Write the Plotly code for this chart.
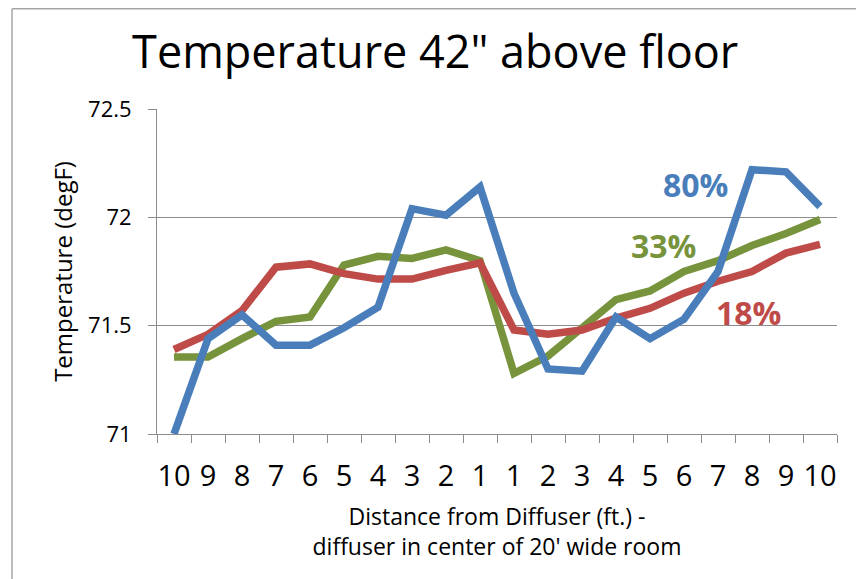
import plotly.graph_objects as go

distance_labels = ["10", "9", "8", "7", "6", "5", "4", "3", "2", "1",
                   "1", "2", "3", "4", "5", "6", "7", "8", "9", "10"]
rh_80 = [71.00, 71.44, 71.55, 71.41, 71.41, 71.49, 71.585, 72.04, 72.01, 72.14,
         71.65, 71.30, 71.29, 71.54, 71.44, 71.53, 71.75, 72.22, 72.21, 72.05]
rh_33 = [71.355, 71.355, 71.44, 71.52, 71.54, 71.78, 71.82, 71.81, 71.85, 71.80,
         71.28, 71.36, 71.49, 71.62, 71.66, 71.75, 71.80, 71.87, 71.925, 71.99]
rh_18 = [71.39, 71.46, 71.57, 71.77, 71.785, 71.74, 71.715, 71.715, 71.755, 71.79,
         71.48, 71.46, 71.48, 71.535, 71.58, 71.65, 71.705, 71.75, 71.835, 71.875]
y_ticks = [71, 71.5, 72, 72.5]
y_tick_text = ["71", "71.5", "72", "72.5"]

x_idx = list(range(len(distance_labels)))
FONT = "Open Sans"

fig = go.Figure()
series = [
    ("33%", rh_33, "#77933C"),
    ("18%", rh_18, "#BE4B48"),
    ("80%", rh_80, "#4A7EBB"),
]
for name, vals, col in series:
    fig.add_trace(go.Scatter(x=x_idx, y=vals, mode="lines", name=name,
                             line=dict(color=col, width=7.5), showlegend=False))

# series labels
label_pos = {"80%": (15.33, 72.151, "#4A7EBB"),
             "33%": (14.4, 71.87, "#77933C"),
             "18%": (16.9, 71.56, "#BE4B48")}
for txt, (lx, ly, col) in label_pos.items():
    fig.add_annotation(x=lx, y=ly, xref="x", yref="y", text=f"<b>{txt}</b>",
                       showarrow=False, font=dict(family=FONT, size=32, color=col))

grid_col = "#8C8C8C"
fig.update_xaxes(
    range=[-0.5, len(distance_labels) - 0.5],
    tickvals=x_idx, ticktext=distance_labels, ticks="",
    tickfont=dict(family=FONT, size=29, color="black"),
    ticklabelstandoff=16,
    showgrid=False, showline=True, linecolor=grid_col, linewidth=1,
    zeroline=False,
    minor=dict(tickvals=[i - 0.5 for i in range(len(distance_labels) + 1)],
               ticks="outside", ticklen=8, tickcolor=grid_col, showgrid=False),
    title=dict(text="Distance from Diffuser (ft.) -<br>diffuser in center of 20' wide room",
               font=dict(family=FONT, size=23, color="black"), standoff=16),
)
fig.update_yaxes(
    range=[71, 72.5], tickvals=y_ticks, ticktext=y_tick_text,
    ticks="outside", ticklen=8, tickcolor=grid_col,
    tickfont=dict(family=FONT, size=22, color="black"),
    ticklabelstandoff=12,
    showgrid=True, gridcolor=grid_col, gridwidth=1,
    showline=True, linecolor=grid_col, linewidth=1, zeroline=False,
    title=dict(text="Temperature (degF)", font=dict(family=FONT, size=24, color="black"),
               standoff=8),
)

# chart-area border (top and left edges visible)
fig.add_shape(type="line", xref="paper", yref="paper", x0=-0.2132, x1=1.06, y0=1.3085, y1=1.3085,
              line=dict(color="#A6A6A6", width=1.5))
fig.add_shape(type="line", xref="paper", yref="paper", x0=-0.2132, x1=-0.2132, y0=1.3085, y1=-0.5,
              line=dict(color="#A6A6A6", width=1.5))

fig.update_layout(
    width=856, height=571,
    margin=dict(l=149, r=27, t=101, b=145),
    paper_bgcolor="white", plot_bgcolor="white",
    title=dict(text='Temperature 42" above floor', x=0.499, xanchor="center",
               y=0.923, yanchor="middle", font=dict(family=FONT, size=45, color="black")),
)

fig.write_html("out.html")
